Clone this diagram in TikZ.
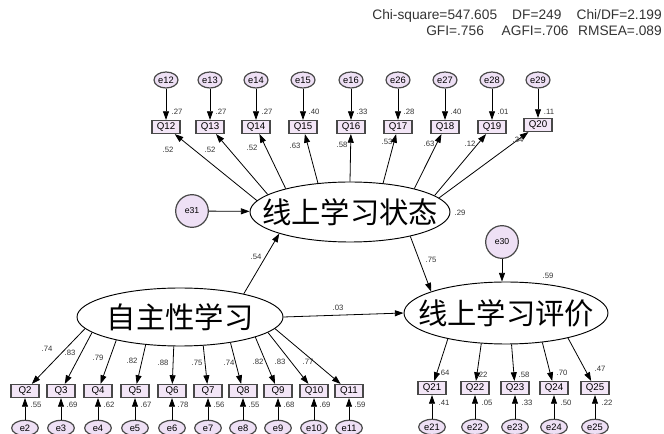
\documentclass[tikz,border=0pt]{standalone}
\usepackage{fontspec}
\setmainfont{Liberation Sans}
\newfontfamily\cjk{Noto Sans CJK SC}
\usetikzlibrary{shapes.geometric,arrows.meta}
\definecolor{efill}{HTML}{EEE0F5}
\definecolor{qfill}{HTML}{F3E6F7}
\definecolor{edgec}{HTML}{484848}
\definecolor{numc}{HTML}{333333}
\begin{document}
\begin{tikzpicture}[x=0.75pt,y=-0.75pt,
  errnode/.style={ellipse,draw=edgec,line width=0.9pt,fill=efill,minimum width=18pt,minimum height=12pt,inner sep=0pt,font=\fontsize{7}{8}\selectfont},
  errbot/.style={errnode,minimum width=20pt,minimum height=11.5pt},
  qbox/.style={rectangle,draw=edgec,line width=1.1pt,fill=qfill,minimum width=21pt,minimum height=9.5pt,inner sep=0pt,font=\fontsize{7.3}{8}\selectfont},
  latent/.style={ellipse,draw=black,line width=0.7pt,fill=white,inner sep=0pt,font=\cjk\fontsize{22}{24}\selectfont},
  dist/.style={circle,draw=edgec,line width=0.9pt,fill=efill,minimum size=24.5pt,inner sep=0pt,font=\fontsize{6.5}{7}\selectfont},
  arr/.style={draw=black,line width=0.6pt,-{Triangle[length=6.5pt,width=4.5pt]}},
  num/.style={font=\fontsize{5.8}{6}\selectfont,text=numc,inner sep=0pt}]
\useasboundingbox (0,0) rectangle (664,434);
\clip (0,0) rectangle (664,434);

% fit statistics
\node[anchor=east,inner sep=0pt,font=\fontsize{10.3}{12}\selectfont,text=numc] (fit1) at (662,16) {Chi-square=547.605\hspace{1.1em}DF=249\hspace{1.1em}Chi/DF=2.199};
\node[anchor=east,inner sep=0pt,font=\fontsize{10.3}{12}\selectfont,text=numc] (fit2) at (662,31) {GFI=.756\hspace{1.3em}AGFI=.706\hspace{0.7em}RMSEA=.089};

% latent variables
\node[latent,minimum width=150pt,minimum height=45pt] (st) at (350,212) {\makebox[0pt]{线上学习状态}};
\node[latent,minimum width=154.5pt,minimum height=43.5pt] (zz) at (180,317) {\makebox[0pt]{自主性学习}};
\node[latent,minimum width=153pt,minimum height=46.5pt] (pj) at (506,313) {\makebox[0pt]{线上学习评价}};

\node[dist] (e31) at (192,211) {e31};
\node[dist] (e30) at (502,242) {e30};
\draw[arr] (e31) -- (st);
\draw[arr] (e30) -- (pj.north -| e30);
\node[num] (r29) at (460,213) {.29};
\node[num] (r59) at (548,276) {.59};

\draw[arr] (zz.20.6) -- (st.197);
\node[num] (p54) at (256,257) {.54};
\draw[arr] (st.338.7) -- (pj.164.5);
\node[num] (p75) at (431,260) {.75};
\draw[arr] (zz.east) -- (pj.west);
\node[num] (p03) at (338,308) {.03};

% top indicators
\foreach \q/\e/\x/\y/\a/\r/\l/\lx/\ly in {
  12/12/166/127/173.2/.27/.52/168/150,
  13/13/210/127/168.9/.27/.52/210/150,
  14/14/256/127/160.2/.27/.52/252/148,
  15/15/303/127/138.8/.40/.63/295/146,
  16/16/351/127/90/.33/.58/342/145,
  17/26/398/127/41.1/.28/.53/387/142,
  18/27/445/127/20.3/.40/.63/429/144,
  19/28/492/127/11.7/.01/.12/470/144,
  20/29/538/125/9/.11/.34/518/140}{
  \node[errnode] (e\e) at (\x,80) {e\e};
  \node[qbox] (Q\q) at (\x,\y) {Q\q};
  \draw[arr] (e\e) -- (Q\q);
  \node[num] (rQ\q) at (\x+11,112) {\r};
  \draw[arr] (st.\a) -- (Q\q);
  \node[num] (lQ\q) at (\lx,\ly) {\l};
}

% bottom-left indicators
\foreach \q/\x/\a/\r/\l/\lx/\ly in {
  2/25/187.6/.55/.74/47/349,
  3/61/190.3/.69/.83/70/353,
  4/98/200.2/.62/.79/98/358,
  5/135/219/.67/.82/132/361,
  6/172/258/.78/.88/163/363,
  7/208/309.8/.56/.75/197/363,
  8/243/333.9/.55/.74/229/363,
  9/278/345/.68/.82/258/362,
  10/314/350/.69/.83/280/362,
  11/349/353/.59/.77/308/362}{
  \node[errbot] (e\q) at (\x,428) {e\q};
  \node[qbox] (Q\q) at (\x,391) {Q\q};
  \draw[arr] (e\q) -- (Q\q);
  \node[num] (rQ\q) at (\x+11,405) {\r};
  \draw[arr] (zz.\a) -- (Q\q);
  \node[num] (lQ\q) at (\lx,\ly) {\l};
}

% bottom-right indicators
\foreach \q/\x/\a/\r/\l/\lx/\ly in {
  21/432/204.7/.41/.64/444/373,
  22/475/231.3/.05/.22/482/375,
  23/515/280.7/.33/.58/524/375,
  24/554/321/.50/.70/562/373,
  25/595/338/.22/.47/600/369}{
  \node[errbot] (e\q) at (\x,427) {e\q};
  \node[qbox] (Q\q) at (\x,388) {Q\q};
  \draw[arr] (e\q) -- (Q\q);
  \node[num] (rQ\q) at (\x+12,403) {\r};
  \draw[arr] (pj.\a) -- (Q\q);
  \node[num] (lQ\q) at (\lx,\ly) {\l};
}
\end{tikzpicture}
\end{document}
